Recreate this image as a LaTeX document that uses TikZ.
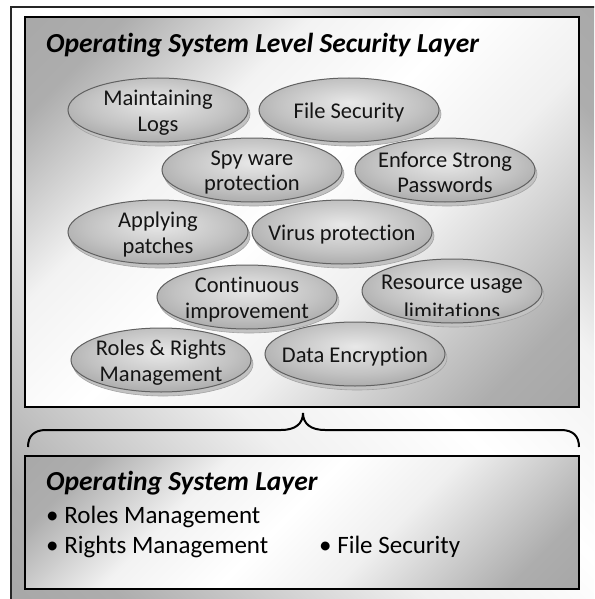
\documentclass[tikz,border=0pt]{standalone}
\usepackage{fontspec}
\setmainfont{Carlito}[Ligatures=NoCommon]
\usetikzlibrary{shapes.geometric,shadows}

% soft grey fill of the bubbles, brighter a little above the centre
\pgfdeclareradialshading{bubbleshade}{\pgfpoint{0bp}{6bp}}{%
  color(0bp)=(black!9); color(20bp)=(black!24); color(42bp)=(black!45); color(52bp)=(black!55); color(70bp)=(black!58)}
% grey corners with a broad white band across the middle
\pgfdeclareverticalshading{layershade}{100bp}{%
  color(0bp)=(black!40); color(22bp)=(black!32); color(40bp)=(black!6); color(52bp)=(white);
  color(64bp)=(black!5); color(78bp)=(black!32); color(100bp)=(black!38)}

\tikzset{
  framebox/.style={draw=black!85, line width=1.2pt, shading=layershade, shading angle=-45},
  layerbox/.style={draw=black, line width=2pt, shading=layershade, shading angle=45},
  bubble/.style={ellipse, draw=black!62, line width=1pt, shading=bubbleshade,
                 minimum width=180pt, minimum height=64pt, inner sep=0pt,
                 general shadow={shadow xshift=2pt, shadow yshift=-4pt, fill=black!24, draw=black!36, line width=0.6pt}},
  bubbletext/.style={align=center, text=black!92, yshift=-2.5pt, font=\fontsize{22.5}{25.5}\selectfont},
  lineonly/.style={anchor=base, text=black!92, font=\fontsize{22.5}{25.5}\selectfont, inner sep=0pt},
  heading/.style={anchor=base west, inner sep=0pt, font=\fontsize{27.5}{32}\selectfont\bfseries\itshape},
  item/.style={anchor=base west, inner sep=0pt, font=\fontsize{25}{30}\selectfont},
  bracket/.style={draw=black, line width=2pt}
}

\begin{document}
\begin{tikzpicture}[x=1pt, y=-1pt]
  \useasboundingbox (0,0) rectangle (594,599);
  \clip (0,0) rectangle (594,599);
  \fill[white] (0,0) rectangle (594,599);

  % outer frame (runs past the right and bottom edges)
  \path[framebox] (11,7) rectangle (612,616);

  % upper layer
  \path[layerbox] (25,17) rectangle (579,407);
  \node[heading] (sectitle) at (46,53) {Operating System Level Security Layer};

  % security measures
  \node[bubble] (logs) at (158,110) {};
  \node[bubbletext] (logsT) at (logs) {Maintaining\\Logs};
  \node[bubble] (filesec) at (349,110) {};
  \node[bubbletext] (filesecT) at (filesec) {File Security};

  \node[bubble] (spy) at (252,170) {};
  \node[bubbletext] (spyT) at (spy) {Spy ware\\protection};
  \node[bubble] (pwd) at (445,170) {};
  \node[bubbletext] (pwdT) at (pwd) {Enforce Strong\\Passwords};

  \node[bubble] (patch) at (158,232) {};
  \node[bubbletext] (patchT) at (patch) {Applying\\patches};
  \node[bubble] (virus) at (342,232) {};
  \node[bubbletext] (virusT) at (virus) {Virus protection};

  \node[bubble] (improve) at (247,297) {};
  \node[bubbletext] (improveT) at (improve) {Continuous\\improvement};
  \node[bubble] (resource) at (452,291) {};
  \node[lineonly] (resourceA) at (452,289) {Resource usage};
  \begin{scope}
    \clip (350,250) rectangle (560,315);
    \node[lineonly] (resourceB) at (452,318) {limitations};
  \end{scope}

  \node[bubble] (roles) at (161,360) {};
  \node[bubbletext] (rolesT) at (roles) {Roles \& Rights\\Management};
  \node[bubble] (crypt) at (355,354) {};
  \node[bubbletext] (cryptT) at (crypt) {Data Encryption};

  % brace joining the two layers
  \coordinate (bl) at (28,447);
  \coordinate (br) at (579,447);
  \coordinate (tip) at (303,413);
  \draw[bracket] (bl) .. controls (28,436) and (34,430) .. (46,430)
    -- (281,430) .. controls (295,430) and (303,424) .. (tip)
    .. controls (303,424) and (311,430) .. (325,430)
    -- (561,430) .. controls (573,430) and (579,436) .. (br);

  % lower layer
  \path[layerbox] (25,456) rectangle (579,589);
  \node[heading] (ostitle) at (46,490) {Operating System Layer};
  \node[item] (rolesM) at (46,523) {\textbullet\ Roles Management};
  \node[item] (rightsM) at (46,553) {\textbullet\ Rights Management};
  \node[item] (fileS) at (319,553) {\textbullet\ File Security};
\end{tikzpicture}
\end{document}
